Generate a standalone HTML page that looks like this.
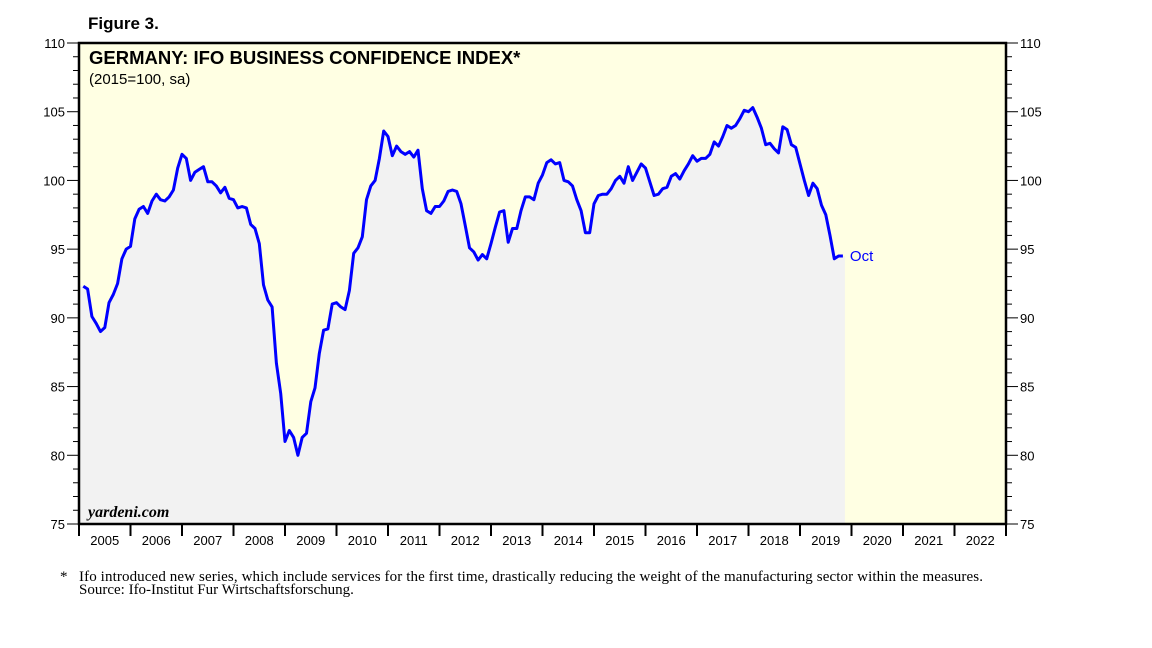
<!DOCTYPE html>
<html><head><meta charset="utf-8">
<style>
body{margin:0;background:#fff;width:1152px;height:648px;overflow:hidden;font-family:"Liberation Sans",sans-serif}
svg{position:absolute;left:0;top:0}
</style></head>
<body>
<svg id="chart" width="1152" height="648"></svg>
<script>
const startYear = 2005;
const yearLabels = ["2005","2006","2007","2008","2009","2010","2011","2012","2013","2014","2015","2016","2017","2018","2019","2020","2021","2022"];
const yTicks = [75,80,85,90,95,100,105,110];
const ifoValues = [
92.3,92.1,90.1,89.6,89.0,89.3,91.1,91.7,92.5,94.3,95.0,95.2,
97.2,97.9,98.1,97.6,98.5,99.0,98.6,98.5,98.8,99.3,100.9,101.9,
101.6,100.0,100.6,100.8,101.0,99.9,99.9,99.6,99.1,99.5,98.7,98.6,
98.0,98.1,98.0,96.8,96.5,95.4,92.4,91.3,90.8,86.7,84.5,81.0,
81.8,81.3,80.0,81.3,81.6,83.9,84.9,87.4,89.1,89.2,91.0,91.1,
90.8,90.6,92.0,94.7,95.1,95.9,98.6,99.6,100.0,101.6,103.6,103.2,
101.8,102.5,102.1,101.9,102.1,101.7,102.2,99.4,97.8,97.6,98.1,98.1,
98.5,99.2,99.3,99.2,98.3,96.7,95.1,94.8,94.2,94.6,94.3,95.4,
96.6,97.7,97.8,95.5,96.5,96.5,97.8,98.8,98.8,98.6,99.8,100.4,
101.3,101.5,101.2,101.3,100.0,99.9,99.6,98.6,97.8,96.2,96.2,98.3,
98.9,99.0,99.0,99.4,100.0,100.3,99.8,101.0,100.0,100.6,101.2,100.9,
99.9,98.9,99.0,99.4,99.5,100.3,100.5,100.1,100.7,101.2,101.8,101.4,
101.6,101.6,101.9,102.8,102.5,103.2,104.0,103.8,104.0,104.5,105.1,105.0,
105.3,104.6,103.8,102.6,102.7,102.3,102.0,103.9,103.7,102.6,102.4,101.2,
100.0,98.9,99.8,99.4,98.2,97.5,96.0,94.3,94.5,94.5];
const lastLabel = "Oct";

const L=79,R=1006,T=43,B=524,yMin=75,yMax=110;
const yearW=(R-L)/yearLabels.length;
const ys=v=>B-(v-yMin)/(yMax-yMin)*(B-T);
const xs=m=>L+(m+1)*yearW/12;
const svg=document.getElementById('chart');
const NS="http://www.w3.org/2000/svg";
function mk(tag,attrs,parent){const e=document.createElementNS(NS,tag);for(const k in attrs)e.setAttribute(k,attrs[k]);(parent||svg).appendChild(e);return e;}

const bg=mk('rect',{x:L,y:T,width:R-L,height:B-T,fill:'#FFFFE3'});



let pts=ifoValues.map((v,i)=>xs(i).toFixed(1)+','+ys(v).toFixed(1));
const lastX=xs(ifoValues.length-1)+2;
const area=mk('polygon',{points:L+','+B+' '+L+','+ys(ifoValues[0]).toFixed(1)+' '+pts.join(' ')+' '+lastX.toFixed(1)+','+ys(ifoValues[ifoValues.length-1]).toFixed(1)+' '+lastX.toFixed(1)+','+B,fill:'#F2F2F2'});



const line=mk('polyline',{points:pts.join(' '),fill:'none',stroke:'#0000FF','stroke-width':3,'stroke-linejoin':'round'});



const frame=mk('rect',{x:L,y:T,width:R-L,height:B-T,fill:'none',stroke:'#000','stroke-width':2.5});



for(let v=yMin;v<=yMax;v++){
  const major=v%5===0, y=ys(v), len=major?12:6;
  mk('line',{x1:L-len,y1:y,x2:L,y2:y,stroke:'#000','stroke-width':1});
  mk('line',{x1:R,y1:y,x2:R+len,y2:y,stroke:'#000','stroke-width':1});
}
yTicks.forEach(v=>{
  const t1=mk('text',{x:L-14,y:ys(v)+5,'text-anchor':'end','font-size':13,fill:'#000'});t1.textContent=v;
  
  
  const t2=mk('text',{x:R+14,y:ys(v)+5,'font-size':13,fill:'#000'});t2.textContent=v;
  
  
});
yearLabels.forEach((lab,i)=>{
  const x=L+i*yearW;
  mk('line',{x1:x,y1:B,x2:x,y2:B+12,stroke:'#000','stroke-width':2});
  const t=mk('text',{x:x+yearW/2,y:B+21,'text-anchor':'middle','font-size':13,fill:'#000'});t.textContent=lab;
  
  
});
mk('line',{x1:R,y1:B,x2:R,y2:B+12,stroke:'#000','stroke-width':2});

const ol=mk('text',{x:lastX+5,y:ys(ifoValues[ifoValues.length-1])+5,'font-size':15,fill:'#0000FF'});ol.textContent=lastLabel;



function txt(x,y,s,attrs,name){const t=mk('text',Object.assign({x:x,y:y},attrs));t.textContent=s;


return t;}
txt(88,29,'Figure 3.',{'font-size':17,'font-weight':'bold'},'figure-label');
txt(89,64,'GERMANY: IFO BUSINESS CONFIDENCE INDEX*',{'font-size':18.5,'font-weight':'bold'},'chart-title');
txt(89,84,'(2015=100, sa)',{'font-size':15},'chart-subtitle');
txt(88,517,'yardeni.com',{'font-size':16,'font-style':'italic','font-weight':'bold','font-family':'Liberation Serif'},'watermark');
txt(60,581,'*',{'font-size':15,'font-family':'Liberation Serif'},'footnote-star');
txt(79,581,'Ifo introduced new series, which include services for the first time, drastically reducing the weight of the manufacturing sector within the measures.',{'font-size':15,'font-family':'Liberation Serif','textLength':904},'footnote');
txt(79,594,'Source: Ifo-Institut Fur Wirtschaftsforschung.',{'font-size':15,'font-family':'Liberation Serif'},'source-note');
</script>
</body></html>
